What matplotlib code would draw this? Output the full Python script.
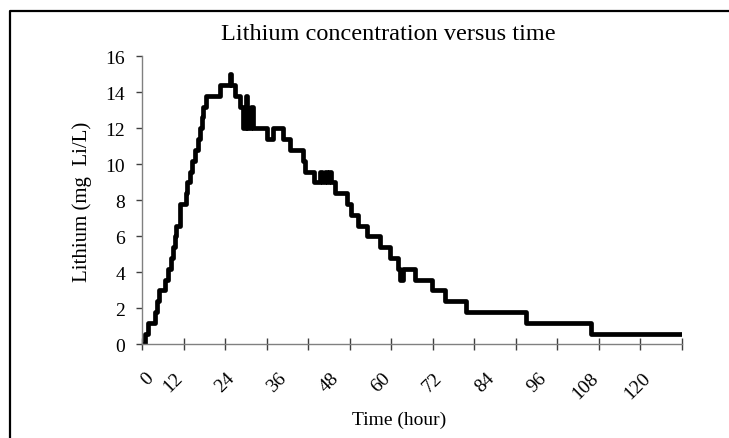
import matplotlib
matplotlib.use("Agg")
from matplotlib import pyplot as plt
from matplotlib.lines import Line2D
import numpy as np

plt.rcParams['font.family'] = ['Liberation Serif', 'DejaVu Serif']

# time (hour) where the reading changes, lithium (mg Li/L) from then on
hours = [3.3, 3.9, 4.7, 6.2, 6.8, 7.2, 8.6, 9.3, 9.9, 10.3, 10.8, 11.2, 12.0,
         13.4, 13.7, 14.3, 14.9, 15.5, 16.1, 16.6, 17.0, 17.4, 18.0, 21.2,
         23.5, 23.8, 24.7, 25.8, 26.6, 27.2, 27.5, 28.5, 28.9, 32.0, 33.4,
         35.8, 37.4, 40.5, 40.9, 43.0, 44.3, 44.9, 45.5, 46.0, 46.5, 46.8,
         47.8, 50.5, 51.6, 53.1, 55.1, 58.2, 60.5, 62.3, 62.8, 63.5, 66.2,
         70.1, 73.2, 78.0, 92.0, 106.8, 127.8]
lithium = [0.0, 0.6, 1.2, 1.8, 2.4, 3.0, 3.6, 4.2, 4.8, 5.4, 6.0, 6.6, 7.8,
           8.4, 9.0, 9.6, 10.2, 10.8, 11.4, 12.0, 12.6, 13.2, 13.8, 14.4,
           15.0, 14.4, 13.8, 13.2, 12.0, 13.8, 12.0, 13.2, 12.0, 11.4, 12.0,
           11.4, 10.8, 10.2, 9.6, 9.0, 9.6, 9.0, 9.6, 9.0, 9.6, 9.0,
           8.4, 7.8, 7.2, 6.6, 6.0, 5.4, 4.8, 4.2, 3.6, 4.2, 3.6,
           3.0, 2.4, 1.8, 1.2, 0.6, 0.6]

time_labels = [0, 12, 24, 36, 48, 60, 72, 84, 96, 108, 120]
y_ticks = [0, 2, 4, 6, 8, 10, 12, 14, 16]

fig = plt.figure(figsize=(7.29, 4.39), dpi=100)
ax = fig.add_axes([0.1948, 0.2134, 0.7407, 0.6561])

ax.plot(hours, lithium, drawstyle='steps-post', color='black', lw=3.4)

x0, x1 = 3.25, 127.9
ax.set_xlim(x0, x1)
ax.set_ylim(0, 16)

for s in ['top', 'right']:
    ax.spines[s].set_visible(False)
for s in ['left', 'bottom']:
    ax.spines[s].set_color('#808080')
    ax.spines[s].set_linewidth(1.0)

# tick marks every few samples, labels every 12 hours (Excel style)
ax.set_xticks(np.arange(x0, x1 + 0.1, (x1 - x0) / 13))
ax.set_xticklabels([])
ax.tick_params(axis='x', which='major', direction='inout', length=8,
               width=1.0, color='#404040')
label_pos = [x0 + 2.0] + time_labels[1:]
ax.set_xticks(label_pos, minor=True)
ax.set_xticklabels([str(t) for t in time_labels], minor=True,
                   rotation=45, ha='right', va='center',
                   rotation_mode='anchor', fontsize=14)
ax.tick_params(axis='x', which='minor', length=0, pad=22)

ax.set_yticks(y_ticks)
ax.set_yticklabels([str(v) for v in y_ticks], fontsize=14)
ax.tick_params(axis='y', direction='out', length=4, width=1.0,
               color='#404040', pad=8)

fig.text(0.533, 0.921, 'Lithium concentration versus time', ha='center',
         va='center', fontsize=17.5)
fig.text(0.112, 0.54, 'Lithium (mg  Li/L)', ha='center', va='center',
         rotation=90, fontsize=15)
fig.text(0.548, 0.043, 'Time (hour)', ha='center', va='center', fontsize=14)

# outer chart border (only left and top edges fall inside the picture)
fy = 1 - 12 / 439
fx = 10 / 729
fig.lines.append(Line2D([fx, fx, 1.0], [0.0, fy, fy],
                        transform=fig.transFigure, color='black', lw=1.6))

fig.savefig('out.png', dpi=100)
